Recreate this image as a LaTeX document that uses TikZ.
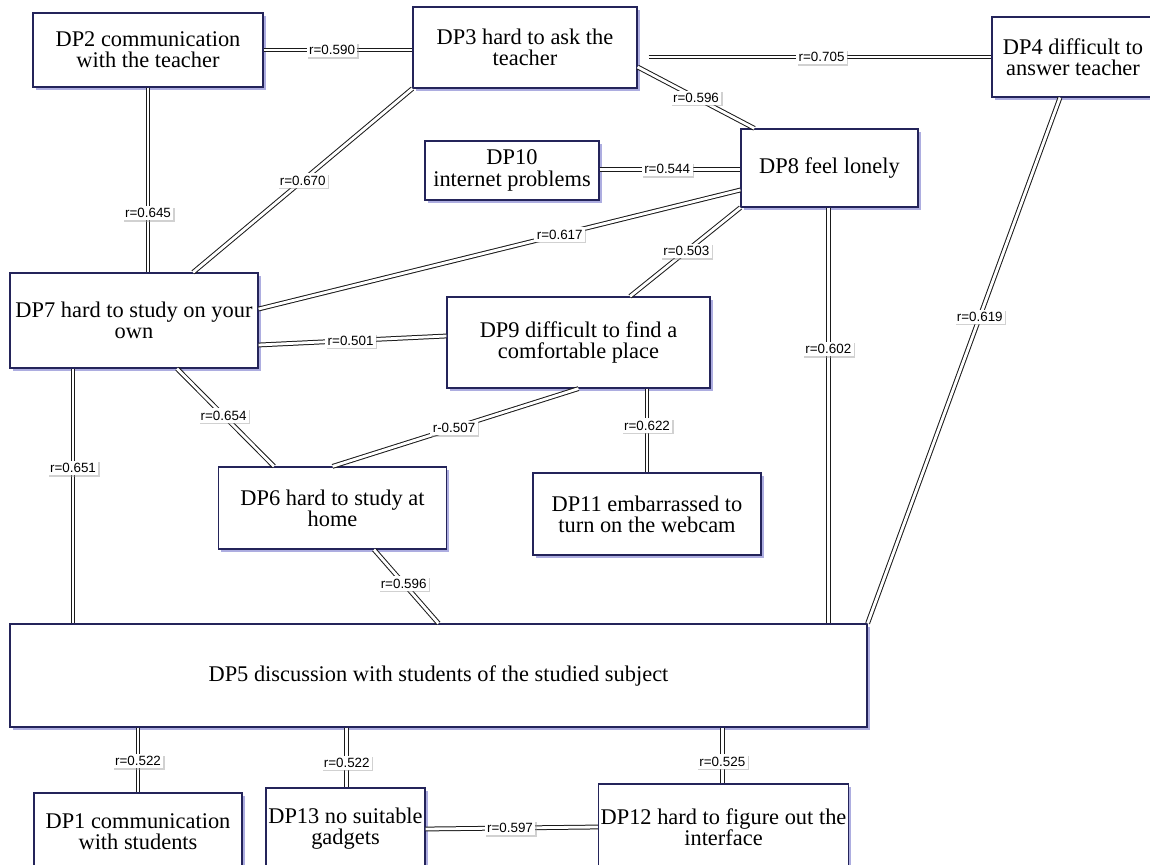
\documentclass[tikz,border=0pt]{standalone}
\usepackage{fontspec}
\setmainfont{Liberation Serif}
\setsansfont{Liberation Sans}
\usepackage{tikz}
\usetikzlibrary{positioning, calc, shadows}
\definecolor{dpnavy}{HTML}{24245A}
\definecolor{dpshadow}{HTML}{6A6AC8}
\definecolor{linegray}{HTML}{1A1A1A}

\begin{document}
\begin{tikzpicture}[
  x=0.5pt, y=-0.5pt,
  box/.style={rectangle, draw=dpnavy, fill=white, line width=0.6pt, align=center, inner sep=0pt, font=\rmfamily\fontsize{11.2}{10.6}\selectfont, drop shadow={shadow xshift=1.4pt, shadow yshift=-1.4pt, fill=dpshadow, opacity=0.55}},
  corr/.style={draw=linegray, line width=0.5pt, double=white, double distance=1.4pt},
  rlab/.style={fill=white, inner sep=1.2pt, font=\sffamily\fontsize{6.7}{7.5}\selectfont, drop shadow={shadow xshift=0.7pt, shadow yshift=-0.7pt, fill=black!40, opacity=0.45}}
]
  \fill[white] (0,0) rectangle (1150,865);
  \useasboundingbox (0,0) rectangle (1150,865);

  % Top row
  \node[box, minimum width=115pt, minimum height=37pt] (dp2) at (148,50) {DP2 communication\\with the teacher};
  \node[box, minimum width=112pt, minimum height=40.5pt] (dp3) at (525,47.5) {DP3 hard to ask the\\teacher};
  \node[box, minimum width=81pt, minimum height=40pt] (dp4) at (1073,57) {DP4 difficult to\\answer teacher};

  % Second row
  \node[box, minimum width=87pt, minimum height=29.5pt] (dp10) at (512,170.5) {DP10\\internet problems};
  \node[box, minimum width=88.5pt, minimum height=39pt] (dp8) at (829.5,168) {DP8 feel lonely};

  % Middle
  \node[box, minimum width=124pt, minimum height=47.5pt] (dp7) at (134,320.5) {DP7 hard to study on your\\own};
  \node[box, minimum width=131.5pt, minimum height=45.5pt] (dp9) at (578.5,342.5) {DP9 difficult to find a\\comfortable place};
  \node[box, minimum width=114pt, minimum height=41pt] (dp6) at (332.5,508) {DP6 hard to study at\\home};
  \node[box, minimum width=114pt, minimum height=41pt] (dp11) at (647,514) {DP11 embarrassed to\\turn on the webcam};

  % Wide box
  \node[box, minimum width=428.5pt, minimum height=51.5pt] (dp5) at (438.5,675.5) {DP5 discussion with students of the studied subject};

  % Bottom row
  \node[box, minimum width=104pt, minimum height=38.5pt] (dp1) at (138,831.5) {DP1 communication\\with students};
  \node[box, minimum width=79.5pt, minimum height=41pt] (dp13) at (345.5,829) {DP13 no suitable\\gadgets};
  \node[box, minimum width=125pt, minimum height=43pt] (dp12) at (723.5,827) {DP12 hard to figure out the\\interface};

  % Correlations among the upper items
  \draw[corr] (dp2.east) -- (dp2.east -| dp3.west) node[rlab, pos=0.46] {r=0.590};
  \draw[corr, shorten <=5.5pt] (dp4.west -| dp3.east) -- (dp4.west) node[rlab, pos=0.52] {r=0.705};
  \draw[corr] ([yshift=-9.75pt]dp3.east) -- ([xshift=7pt]dp8.north west) node[rlab, pos=0.5] {r=0.596};
  \draw[corr] ([yshift=0.6pt]dp10.east) -- ([yshift=0.6pt]dp10.east -| dp8.west) node[rlab, pos=0.48] {r=0.544};
  \draw[corr] (dp2.south) -- (dp2.south |- dp7.north) node[rlab, pos=0.68] {r=0.645};
  \draw[corr] (dp3.south west) -- ([xshift=29.5pt]dp7.north) node[rlab, pos=0.5] {r=0.670};
  \draw[corr] ([yshift=-11pt]dp8.west) -- ([yshift=5.75pt]dp7.east) node[rlab, pos=0.375] {r=0.617};
  \draw[corr] (dp8.south west) -- ([xshift=25.75pt]dp9.north) node[rlab, pos=0.49] {r=0.503};
  \draw[corr] ([yshift=-12.25pt]dp7.east) -- ([yshift=3.25pt]dp9.west) node[rlab, pos=0.49] {r=0.501};

  % Middle links
  \draw[corr] ([xshift=21.5pt]dp7.south) -- ([xshift=-29.25pt]dp6.north) node[rlab, pos=0.48] {r=0.654};
  \draw[corr] (dp9.south) -- (dp6.north) node[rlab, pos=0.506] {r-0.507};
  \draw[corr] (dp9.south -| dp11.north) -- (dp11.north) node[rlab, pos=0.44] {r=0.622};

  % Links into DP5
  \draw[corr] ([xshift=20.75pt]dp6.south) -- (dp5.north) node[rlab, pos=0.46] {r=0.596};
  \draw[corr] ([xshift=-30.5pt]dp7.south) coordinate (dp7foot) -- (dp7foot |- dp5.north) node[rlab, pos=0.39] {r=0.651};
  \draw[corr] ([xshift=-0.6pt]dp8.south) coordinate (dp8foot) -- (dp8foot |- dp5.north) node[rlab, pos=0.34] {r=0.602};
  \draw[corr] ([xshift=-6.5pt]dp4.south) -- (dp5.north east) node[rlab, pos=0.417] {r=0.619};

  % Bottom links
  \draw[corr] (dp1.north |- dp5.south) -- (dp1.north) node[rlab, pos=0.52] {r=0.522};
  \draw[corr] ([xshift=0.6pt]dp13.north |- dp5.south) coordinate (dp13top) -- ([xshift=0.6pt]dp13.north) node[rlab, pos=0.59] {r=0.522};
  \draw[corr] ([xshift=-0.6pt]dp12.north) coordinate (dp12top) -- (dp12top |- dp5.south) node[rlab, pos=0.39] {r=0.525};
  \draw[corr] (dp13.east) -- (dp12.west) node[rlab, pos=0.49] {r=0.597};
\end{tikzpicture}
\end{document}
